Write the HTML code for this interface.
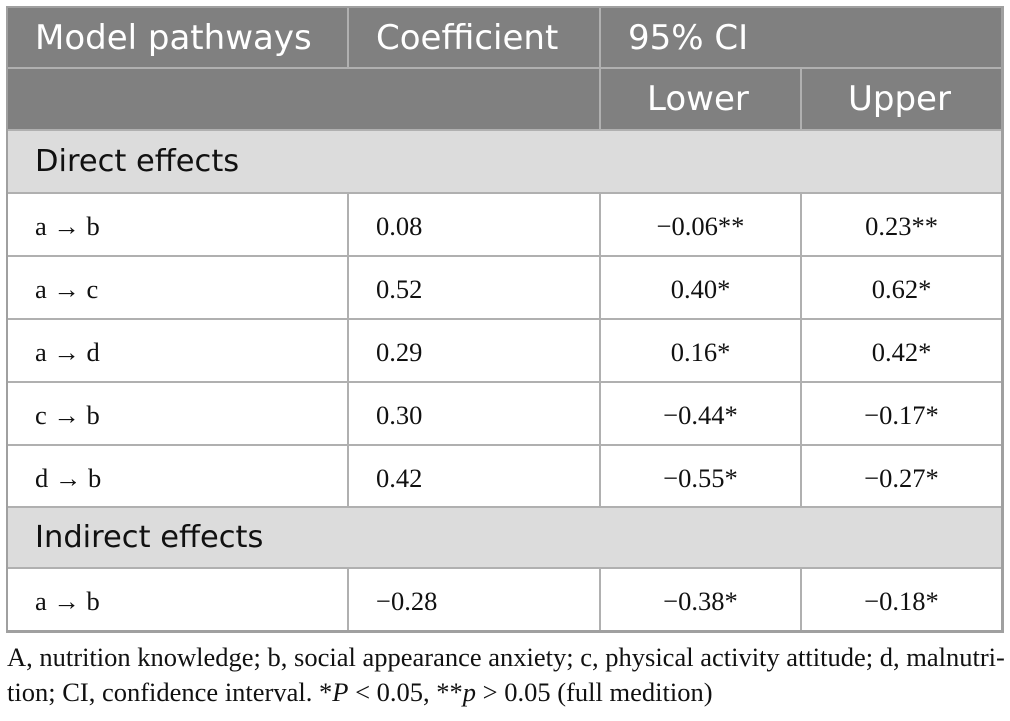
<!DOCTYPE html>
<html><head><meta charset="utf-8"><style>
body{margin:0;width:1010px;height:721px;background:#fff;position:relative;overflow:hidden}
.t{position:absolute;left:6px;top:6px;width:993px;height:622px;border:2px solid #a0a0a0;border-right-width:3px;border-bottom-width:3px}
.c{position:absolute;box-sizing:border-box;display:flex;align-items:center;white-space:nowrap}
.h{background:#808080;color:#fff;font-family:"DejaVu Sans","Liberation Sans",sans-serif;font-size:34px;padding-left:27px}
.s{background:#dcdcdc;color:#111;font-family:"DejaVu Sans","Liberation Sans",sans-serif;font-size:30.5px;padding-left:27px}
.b{background:#fff;color:#111;font-family:"Liberation Serif",serif;font-size:26.5px;padding-top:4px}
.l{padding-left:27px}.ctr{justify-content:center}
.vl{position:absolute;width:2px;background:#b0b0b0}
.hl{position:absolute;height:2px;background:#b0b0b0;left:8px;width:993px}
.cap{position:absolute;left:7px;top:640px;width:1005px;font-family:"Liberation Serif",serif;font-size:26.5px;line-height:35px;color:#111;white-space:nowrap}
</style></head><body>
<div class="t"></div>
<div class="c h" style="left:8px;top:8px;width:993px;height:121px"></div>
<div class="c h" style="left:8px;top:8px;width:339px;height:59px">Model pathways</div>
<div class="c h" style="left:349px;top:8px;width:250px;height:59px">Coefficient</div>
<div class="c h" style="left:601px;top:8px;width:400px;height:59px">95% CI</div>
<div class="c h" style="left:601px;top:69px;width:199px;height:60px;padding-left:46px">Lower</div>
<div class="c h" style="left:802px;top:69px;width:199px;height:60px;padding-left:46px">Upper</div>
<div class="vl" style="left:347px;top:8px;height:59px"></div>
<div class="vl" style="left:599px;top:8px;height:121px"></div>
<div class="vl" style="left:800px;top:67px;height:62px"></div>
<div class="hl" style="top:67px"></div>
<div id="body"></div>
<div class="cap">A, nutrition knowledge; b, social appearance anxiety; c, physical activity attitude; d, malnutri-<br>tion; CI, confidence interval. *<i>P</i> &lt; 0.05, **<i>p</i> &gt; 0.05 (full medition)</div>
<script>
const rows=[
["s","Direct effects"],
["r","a → b","0.08","−0.06**","0.23**"],
["r","a → c","0.52","0.40*","0.62*"],
["r","a → d","0.29","0.16*","0.42*"],
["r","c → b","0.30","−0.44*","−0.17*"],
["r","d → b","0.42","−0.55*","−0.27*"],
["s","Indirect effects"],
["r","a → b","−0.28","−0.38*","−0.18*"]];
const tops=[129,192,255,318,381,444,506,567,630];
const host=document.getElementById('body');
let h='';
rows.forEach((r,i)=>{
 const t=tops[i],ht=tops[i+1]-t-2;
 h+=`<div class="hl" style="top:${t}px"></div>`;
 if(r[0]==='s'){h+=`<div class="c s" style="left:8px;top:${t+2}px;width:993px;height:${ht}px">${r[1]}</div>`;}
 else{
  h+=`<div class="c b l" style="left:8px;top:${t+2}px;width:339px;height:${ht}px">${r[1]}</div>`;
  h+=`<div class="c b l" style="left:349px;top:${t+2}px;width:250px;height:${ht}px">${r[2]}</div>`;
  h+=`<div class="c b ctr" style="left:601px;top:${t+2}px;width:199px;height:${ht}px">${r[3]}</div>`;
  h+=`<div class="c b ctr" style="left:802px;top:${t+2}px;width:199px;height:${ht}px">${r[4]}</div>`;
  h+=`<div class="vl" style="left:347px;top:${t+2}px;height:${ht}px"></div><div class="vl" style="left:599px;top:${t+2}px;height:${ht}px"></div><div class="vl" style="left:800px;top:${t+2}px;height:${ht}px"></div>`;
 }
});
host.innerHTML=h;
</script>
</body></html>
